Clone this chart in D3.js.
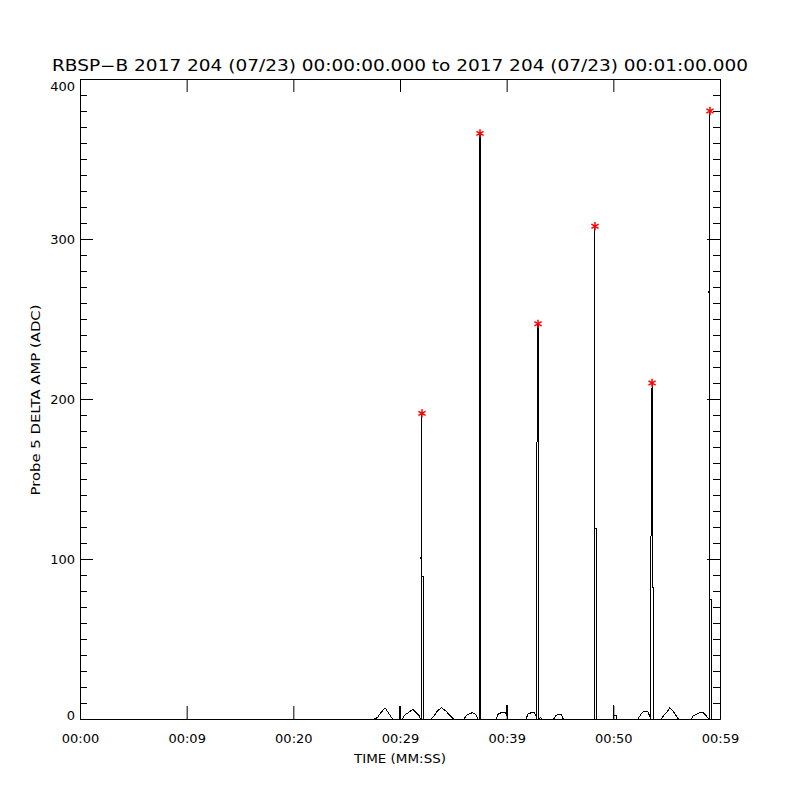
<!DOCTYPE html>
<html>

<head>
  <title>RBSP-B Probe 5 delta amp</title>
</head>

<style>
  body,
  html {
    margin: 0;
    padding: 0;
    background: #fff;
  }

  text {
    font-family: "DejaVu Sans", sans-serif;
    fill: #000;
  }
</style>

<body>

  <svg id="svg" width="800" height="800"></svg>

  <script src="https://d3js.org/d3.v7.min.js"></script>
  <script>

    // samples (seconds after 00:00:00, ADC)
    const times = [
      0, 27.6, 27.9, 28.1, 28.6, 29.0, 29.3,
      29.95, 30.0, 30.05,
      30.2, 30.5, 30.8, 31.0, 31.2, 31.5, 31.8, 31.9,
      31.97, 31.97, 32.06, 32.06, 32.16, 32.16,
      32.9, 33.2, 33.5, 33.9, 34.3, 34.7, 35.0,
      36.0, 36.2, 36.4, 36.8, 37.1, 37.3,
      37.41, 37.41, 37.5, 37.5, 37.59, 37.59,
      39.0, 39.2, 39.5, 39.9, 40.0, 40.03, 40.06,
      41.8, 42.0, 42.3, 42.6, 42.75,
      42.84, 42.84, 42.94, 42.94, 43.03, 43.03, 43.2, 43.3,
      44.4, 44.6, 44.8, 45.1, 45.3,
      48.19, 48.19, 48.28, 48.28, 48.38, 48.38,
      49.97, 50.0, 50.03, 50.3, 50.35,
      52.3, 52.6, 52.9, 53.2, 53.4,
      53.53, 53.53, 53.63, 53.63, 53.72, 53.72,
      54.5, 54.8, 55.1, 55.3, 55.6, 55.9, 56.1,
      57.3, 57.5, 57.8, 58.1, 58.4, 58.7,
      58.97, 58.97, 59.06, 59.06, 59.16, 59.16, 60
    ]
    const amps = [
      0, 0, 1, 3, 7, 3, 0,
      0, 8, 0,
      0, 3, 4, 5, 6, 4, 2, 0,
      0, 100, 191, 89, 89, 0,
      0, 2, 5, 7, 5, 2, 0,
      0, 2, 3, 4, 3, 0,
      0, 246, 366, 62, 40, 0,
      0, 3, 4, 4, 2, 9, 0,
      0, 3, 4, 4, 2,
      0, 169, 247, 154, 154, 0, 1, 0,
      0, 2, 3, 3, 0,
      0, 273, 308, 119, 119, 0,
      0, 9, 2, 2, 0,
      0, 3, 5, 5, 2,
      0, 112, 210, 82, 82, 0,
      0, 3, 5, 7, 5, 2, 0,
      0, 2, 3, 4, 4, 2,
      0, 266, 380, 75, 75, 0, 0
    ]

    // detected peaks (red asterisks)
    const peakTimes = [32.06, 37.5, 42.94, 48.28, 53.63, 59.06]
    const peakAmps = [191, 366, 247, 308, 210, 380]

    // axis ticks
    const xTicks = [0, 10, 20, 30, 40, 50, 60]
    const xTickLabels = ['00:00', '00:09', '00:20', '00:29', '00:39', '00:50', '00:59']
    const yTicks = [0, 100, 200, 300, 400]
    const yMinor = d3.range(0, 401, 10)

    const titleText = 'RBSP\u2212B 2017 204 (07/23) 00:00:00.000 to 2017 204 (07/23) 00:01:00.000'

    const svg = d3.select('#svg')

    const xscale = d3.scaleLinear()
      .domain([0, 60])
      .range([80, 720])

    const yscale = d3.scaleLinear()
      .domain([0, 400])
      .range([719, 79])

    // data line
    const linegen = d3.line()
      .x(i => xscale(times[i]))
      .y(i => yscale(amps[i]))

    svg.append('path')
      .attr('d', linegen(d3.range(times.length)))
      .attr('fill', 'none')
      .attr('stroke', '#000')
      .attr('stroke-width', 1)
      .attr('shape-rendering', 'crispEdges')

    // peak markers
    svg.selectAll('.peak')
      .data(peakTimes)
      .join('path')
      .attr('class', 'peak')
      .attr('transform', (d, i) => `translate(${xscale(d)},${yscale(peakAmps[i])})`)
      .attr('d', d3.symbol(d3.symbolAsterisk, 48))
      .attr('fill', 'none')
      .attr('stroke', '#ff0000')
      .attr('stroke-width', 1.5)

    // axes
    function styleAxis(g) {
      g.selectAll('path, line').attr('stroke', '#000').attr('stroke-width', 1)
      g.selectAll('text').style('font-size', '13px').attr('fill', '#000')
    }

    svg.append('g')
      .attr('transform', 'translate(0,719)')
      .call(d3.axisBottom(xscale).tickValues(xTicks)
        .tickFormat((d, i) => xTickLabels[i])
        .tickSize(-13).tickSizeOuter(0).tickPadding(14.5))
      .call(styleAxis)

    svg.append('g')
      .attr('transform', 'translate(0,79)')
      .call(d3.axisTop(xscale).tickValues(xTicks)
        .tickFormat('').tickSize(-13).tickSizeOuter(0))
      .call(styleAxis)

    const yAxis = svg.append('g')
      .attr('transform', 'translate(80,0)')
      .call(d3.axisLeft(yscale).tickValues(yTicks)
        .tickSize(-13).tickSizeOuter(0).tickPadding(5))
      .call(styleAxis)

    // first and last labels sit inside the frame
    yAxis.selectAll('.tick text')
      .filter(d => d === 400).attr('dy', '0.85em')
    yAxis.selectAll('.tick text')
      .filter(d => d === 0).attr('dy', '0em')

    svg.append('g')
      .attr('transform', 'translate(80,0)')
      .call(d3.axisLeft(yscale).tickValues(yMinor)
        .tickFormat('').tickSize(-7).tickSizeOuter(0))
      .call(styleAxis)

    svg.append('g')
      .attr('transform', 'translate(720,0)')
      .call(d3.axisRight(yscale).tickValues(yTicks)
        .tickFormat('').tickSize(-13).tickSizeOuter(0))
      .call(styleAxis)

    svg.append('g')
      .attr('transform', 'translate(720,0)')
      .call(d3.axisRight(yscale).tickValues(yMinor)
        .tickFormat('').tickSize(-7).tickSizeOuter(0))
      .call(styleAxis)

    // titles
    svg.append('text')
      .attr('x', 400)
      .attr('y', 71)
      .attr('text-anchor', 'middle')
      .attr('textLength', 696)
      .attr('lengthAdjust', 'spacingAndGlyphs')
      .style('font-size', '15px')
      .text(titleText)

    svg.append('text')
      .attr('x', 400)
      .attr('y', 763)
      .attr('text-anchor', 'middle')
      .attr('textLength', 92)
      .attr('lengthAdjust', 'spacingAndGlyphs')
      .style('font-size', '13px')
      .text('TIME (MM:SS)')

    svg.append('text')
      .attr('transform', 'translate(40,400) rotate(-90)')
      .attr('text-anchor', 'middle')
      .attr('textLength', 191)
      .attr('lengthAdjust', 'spacingAndGlyphs')
      .style('font-size', '13px')
      .text('Probe 5 DELTA AMP (ADC)')

  </script>

</body>

</html>
